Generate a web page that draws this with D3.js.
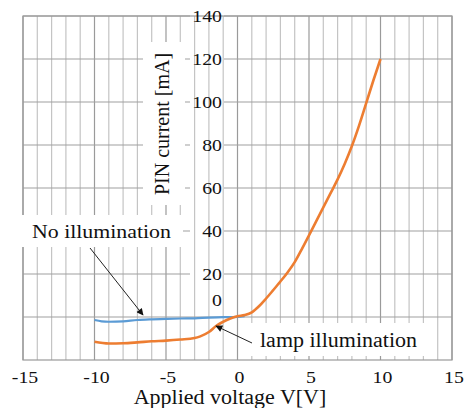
<!DOCTYPE html>
<html><head><meta charset="utf-8">
<script src="https://cdn.jsdelivr.net/npm/d3@7"></script>
</head><body style="margin:0"><svg id="c" width="467" height="408" style="display:block"></svg>
<script>
// Data
const xTicks = [-15, -10, -5, 0, 5, 10, 15];
const yTicks = [0, 20, 40, 60, 80, 100, 120, 140];
const lampV = [-10, -9, -8, -7, -6, -5, -4, -3, -2.6, -2, -1.5, -1, -0.5, 0, 0.5, 1, 1.5, 2, 2.5, 3, 3.5, 4, 4.5, 5, 5.5, 6, 6.5, 7, 7.5, 8, 8.5, 9, 9.5, 10];
const lampI = [-11.5, -12.3, -12.2, -11.8, -11.3, -11, -10.5, -9.8, -9, -7, -4.2, -2.2, -0.7, 0.3, 0.9, 2.2, 5.0, 8.6, 12.5, 16.5, 20.7, 25.5, 31.6, 38, 44.5, 51, 57.5, 64, 71.3, 79.5, 89, 99.5, 110, 120];
const darkV = [-10, -9.5, -9, -8, -7, -6, -5, -4, -3, -2, -1, 0, 0.5];
const darkI = [-1.4, -2, -2.2, -2, -1.4, -1.1, -0.9, -0.7, -0.6, -0.3, -0.1, 0.1, 0.4];

const FONT = '"Liberation Serif"';
const svg = d3.select("#c");
const L = 23, R = 452, T = 16, B = 360;
const x = d3.scaleLinear().domain([-15, 15]).range([L, R]);
const y = d3.scaleLinear().domain([-20, 140]).range([B, T]);

// vertical grid
const minor = d3.range(-15, 16, 1);
svg.append("g").selectAll("line").data(minor).join("line")
  .attr("x1", d => x(d)).attr("x2", d => x(d)).attr("y1", T).attr("y2", B)
  .attr("stroke", d => d % 5 === 0 ? "#9a9a9a" : "#c4c4c4").attr("stroke-width", 1.2);

// horizontal grid, broken behind tick labels
const labL = 190, labR = 224;
const hg = svg.append("g");
yTicks.forEach(t => {
  const yy = y(t);
  const seg = t === 0 ? [[L, R]] : [[L, labL], [labR, R]];
  seg.forEach(s => hg.append("line").attr("x1", s[0]).attr("x2", s[1]).attr("y1", yy).attr("y2", yy)
    .attr("stroke", "#a0a0a0").attr("stroke-width", 1.2));
});
svg.append("rect").attr("x", L).attr("y", T).attr("width", R - L).attr("height", B - T)
  .attr("fill", "none").attr("stroke", "#9a9a9a").attr("stroke-width", 1.2);

// white boxes for labels
svg.append("rect").attr("x", 143).attr("y", 42).attr("width", 42).attr("height", 163).attr("fill", "#fff");
svg.append("rect").attr("x", 18).attr("y", 215).attr("width", 165).attr("height", 32).attr("fill", "#fff");
svg.append("rect").attr("x", 250).attr("y", 323).attr("width", 175).attr("height", 33).attr("fill", "#fff");

const ink = "#111";
function txt(sel, size, stretch) {
  sel.style("font-family", FONT).style("font-size", size + "px").attr("fill", ink);
  if (stretch) sel.each(function () {
    const w = this.getComputedTextLength();
    d3.select(this).attr("textLength", w * stretch).attr("lengthAdjust", "spacingAndGlyphs");
  });
  return sel;
}
// y tick labels
txt(svg.append("g").selectAll("text").data(yTicks).join("text")
  .attr("x", 222).attr("y", d => y(d === 0 ? 8 : d) + 6)
  .attr("text-anchor", "end").text(d => d), 16.5, 1.2);

// x tick labels
txt(svg.append("g").selectAll("text").data(xTicks).join("text")
  .attr("x", d => x(d) + 2).attr("y", 382.5)
  .attr("text-anchor", "middle").text(d => d), 16.5, 1.2);

// axis titles
txt(svg.append("text").attr("x", 230).attr("y", 404).attr("text-anchor", "middle")
  .text("Applied voltage V[V]"), 20, 1.1);
txt(svg.append("text").attr("transform", "translate(169,124) rotate(-90)").attr("text-anchor", "middle")
  .text("PIN current [mA]"), 20);

// curves
const line = d3.line().x(d => x(d[0])).y(d => y(d[1])).curve(d3.curveMonotoneX);
svg.append("path").datum(d3.zip(darkV, darkI)).attr("d", line)
  .attr("fill", "none").attr("stroke", "#5B9BD5").attr("stroke-width", 2.2);
svg.append("path").datum(d3.zip(lampV, lampI)).attr("d", line)
  .attr("fill", "none").attr("stroke", "#ED7D31").attr("stroke-width", 2.6);

// annotations
const defs = svg.append("defs");
defs.append("marker").attr("id", "ah").attr("viewBox", "0 0 10 10").attr("refX", 9).attr("refY", 5)
  .attr("markerWidth", 9).attr("markerHeight", 7).attr("orient", "auto").attr("markerUnits", "userSpaceOnUse")
  .append("path").attr("d", "M0,0L10,5L0,10z").attr("fill", "#111");
svg.append("line").attr("x1", 90).attr("y1", 248).attr("x2", 143).attr("y2", 315)
  .attr("stroke", "#222").attr("stroke-width", 1).attr("marker-end", "url(#ah)");
svg.append("line").attr("x1", 252).attr("y1", 343).attr("x2", 216).attr("y2", 326)
  .attr("stroke", "#222").attr("stroke-width", 1).attr("marker-end", "url(#ah)");
txt(svg.append("text").attr("x", 32).attr("y", 238).text("No illumination"), 19.5, 1.12);
txt(svg.append("text").attr("x", 260).attr("y", 347).text("lamp illumination"), 20, 1.1);
</script></body></html>
